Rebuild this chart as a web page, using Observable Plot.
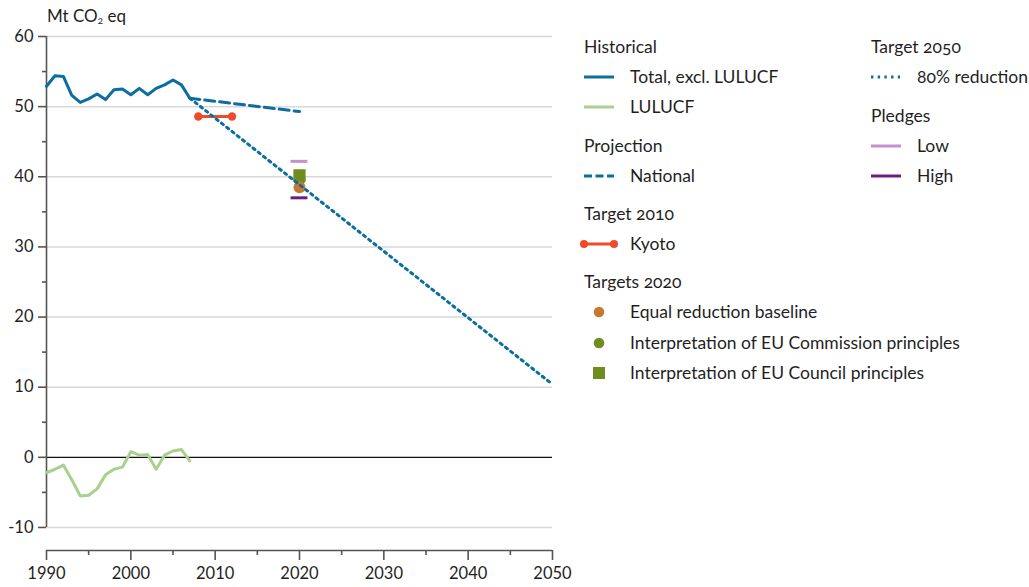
<!DOCTYPE html>
<html>
<head>
<meta charset="utf-8">
<script src="https://cdn.jsdelivr.net/npm/d3@7"></script>
<script src="https://cdn.jsdelivr.net/npm/@observablehq/plot@0.6"></script>
<style>
  html, body { margin: 0; padding: 0; background: #fff; }
  body { font-family: Lato, "Open Sans", sans-serif; color: #1f1f1f; font-variant-numeric: oldstyle-nums; }
  #wrap { position: relative; width: 1029px; height: 587px; overflow: hidden; }
  #chart { position: absolute; left: 0; top: 0; }
  .title { position: absolute; left: 47px; top: 5px; font-size: 17px; }
  .title sub { font-size: 10px; vertical-align: -2px; }
  .lg { position: absolute; font-size: 17.5px; line-height: 22px; white-space: nowrap; }
  .lg svg { position: absolute; left: 0; top: 0; overflow: visible; }
</style>
</head>
<body>
<div id="wrap">
  <div id="chart"></div>
  <div class="title">Mt CO<sub>2</sub> eq</div>
</div>
<script>
// ---------- data ----------
const histYears = [1990,1991,1992,1993,1994,1995,1996,1997,1998,1999,2000,2001,2002,2003,2004,2005,2006,2007];
const totalExclLulucf = [52.9,54.4,54.3,51.6,50.6,51.1,51.8,51.0,52.4,52.5,51.7,52.6,51.7,52.6,53.1,53.8,53.1,51.2];
const lulucf = [-2.2,-1.7,-1.1,-3.2,-5.5,-5.4,-4.5,-2.5,-1.7,-1.4,0.8,0.3,0.4,-1.7,0.3,0.9,1.1,-0.5];
const projYears = [2007, 2020];
const projNational = [51.2, 49.3];
const target2050Years = [2007, 2050];
const target2050Values = [51.2, 10.4];
const kyotoYears = [2008, 2012];
const kyotoValues = [48.6, 48.6];
const targetYear = 2020;
const pledgeLow = 42.2;
const pledgeHigh = 37.0;
const equalReduction = 38.5;
const commissionPrinciples = 39.6;
const councilPrinciples = 40.2;
const xTicks = [1990,2000,2010,2020,2030,2040,2050];
const xMinorTicks = [1995,2005,2015,2025,2035,2045];
const yTicks = [-10,0,10,20,30,40,50,60];
const yMinorTicks = [-5,5,15,25,35,45,55];

// ---------- colours ----------
const cBlue = "#0b6e9e", cGreen = "#a9d08e", cRed = "#ee4b2b",
      cLow = "#c391cc", cHigh = "#6a1f7e", cOrange = "#c7792f", cOlive = "#6f8d1f";

const hist = histYears.map((x,i)=>({x, total: totalExclLulucf[i], lulucf: lulucf[i]}));
const proj = projYears.map((x,i)=>({x, y: projNational[i]}));
const t2050 = target2050Years.map((x,i)=>({x, y: target2050Values[i]}));
const kyoto = kyotoYears.map((x,i)=>({x, y: kyotoValues[i]}));

const yBottom = -10 - 23/7;   // x-axis sits below the -10 line
const font = "Lato, 'Open Sans', sans-serif";

const chart = Plot.plot({
  width: 1029, height: 587,
  marginLeft: 46, marginRight: 477, marginTop: 36, marginBottom: 37,
  x: {domain: [1990, 2050]},
  y: {domain: [yBottom, 60]},
  style: {fontFamily: font, fontSize: "16.5px", color: "#1f1f1f", background: "transparent", fontVariantNumeric: "oldstyle-nums"},
  marks: [
    Plot.ruleY(yTicks.filter(d => d !== 0), {x1: 1990, x2: 2050, stroke: "#d8d8d8", strokeWidth: 1.5}),
    Plot.ruleY([0], {x1: 1990, x2: 2050, stroke: "#111", strokeWidth: 1.2}),
    Plot.ruleX([1990], {y1: -10, y2: 60, stroke: "#555", strokeWidth: 1.6}),
    Plot.ruleY([yBottom], {x1: 1990, x2: 2050, stroke: "#555", strokeWidth: 1.6}),
    Plot.axisY(yTicks, {tickSize: 8, tickPadding: 5, tickFormat: d => String(d), label: null, stroke: "#555", strokeWidth: 1.6, fontSize: 16.5}),
    Plot.axisY(yMinorTicks, {tickSize: 4, text: null, label: null, stroke: "#555", strokeWidth: 1.6}),
    Plot.axisX(xTicks, {tickSize: 10, tickPadding: 7, tickFormat: d => String(d), label: null, stroke: "#555", strokeWidth: 1.6, fontSize: 16.5}),
    Plot.axisX(xMinorTicks, {tickSize: 5, text: null, label: null, stroke: "#555", strokeWidth: 1.6}),
    Plot.line(hist, {x: "x", y: "lulucf", stroke: cGreen, strokeWidth: 3}),
    Plot.line(hist, {x: "x", y: "total", stroke: cBlue, strokeWidth: 3}),
    Plot.line(proj, {x: "x", y: "y", stroke: cBlue, strokeWidth: 3, strokeDasharray: "10,5"}),
    Plot.line(kyoto, {x: "x", y: "y", stroke: cRed, strokeWidth: 3}),
    Plot.dot(kyoto, {x: "x", y: "y", fill: cRed, r: 4.2}),
    Plot.ruleY([pledgeLow], {x1: targetYear - 1, x2: targetYear + 1, stroke: cLow, strokeWidth: 3}),
    Plot.ruleY([pledgeHigh], {x1: targetYear - 1, x2: targetYear + 1, stroke: cHigh, strokeWidth: 3}),
    Plot.dot([councilPrinciples], {x: () => targetYear, y: d => d, symbol: "square", r: 6.9, fill: cOlive}),
    Plot.dot([commissionPrinciples], {x: () => targetYear, y: d => d, r: 6, fill: cOlive}),
    Plot.dot([equalReduction], {x: () => targetYear, y: d => d, r: 6, fill: cOrange}),
    Plot.line(t2050, {x: "x", y: "y", stroke: cBlue, strokeWidth: 3, strokeDasharray: "2.4,4.3"})
  ]
});
document.getElementById("chart").appendChild(chart);

// ---------- legend ----------
const legendItems = [
  {col: 0, y: 47, head: "Historical"},
  {col: 0, y: 77, label: "Total, excl. LULUCF", sym: "line", color: cBlue},
  {col: 0, y: 107, label: "LULUCF", sym: "line", color: cGreen},
  {col: 0, y: 146, head: "Projection"},
  {col: 0, y: 176, label: "National", sym: "dash", color: cBlue},
  {col: 0, y: 214, head: "Target 2010"},
  {col: 0, y: 244, label: "Kyoto", sym: "dotline", color: cRed},
  {col: 0, y: 282, head: "Targets 2020"},
  {col: 0, y: 312, label: "Equal reduction baseline", sym: "circle", color: cOrange},
  {col: 0, y: 343, label: "Interpretation of EU Commission principles", sym: "circle", color: cOlive},
  {col: 0, y: 373, label: "Interpretation of EU Council principles", sym: "square", color: cOlive},
  {col: 1, y: 47, head: "Target 2050"},
  {col: 1, y: 77, label: "80% reduction", sym: "dot", color: cBlue},
  {col: 1, y: 116, head: "Pledges"},
  {col: 1, y: 146, label: "Low", sym: "line", color: cLow},
  {col: 1, y: 176, label: "High", sym: "line", color: cHigh}
];
const colX = [584, 871];
const wrap = document.getElementById("wrap");
const ns = "http://www.w3.org/2000/svg";
for (const it of legendItems) {
  const div = document.createElement("div");
  div.className = "lg";
  const x0 = colX[it.col];
  div.style.left = x0 + "px";
  div.style.top = (it.y - 11) + "px";
  if (it.head) {
    div.textContent = it.head;
  } else {
    const span = document.createElement("span");
    span.textContent = it.label;
    span.style.marginLeft = "46px";
    div.appendChild(span);
    const svg = document.createElementNS(ns, "svg");
    svg.setAttribute("width", 32); svg.setAttribute("height", 22);
    let inner = "";
    const cy = 11;
    if (it.sym === "line") inner = `<line x1="0" x2="30" y1="${cy}" y2="${cy}" stroke="${it.color}" stroke-width="3"/>`;
    if (it.sym === "dash") inner = `<line x1="0" x2="30" y1="${cy}" y2="${cy}" stroke="${it.color}" stroke-width="3" stroke-dasharray="8,3.5"/>`;
    if (it.sym === "dot") inner = `<line x1="0" x2="29" y1="${cy}" y2="${cy}" stroke="${it.color}" stroke-width="3" stroke-dasharray="2.4,4.3"/>`;
    if (it.sym === "dotline") inner = `<line x1="0" x2="30" y1="${cy}" y2="${cy}" stroke="${it.color}" stroke-width="3"/><circle cx="0" cy="${cy}" r="4" fill="${it.color}"/><circle cx="30" cy="${cy}" r="4" fill="${it.color}"/>`;
    if (it.sym === "circle") inner = `<circle cx="15" cy="${cy}" r="5.3" fill="${it.color}"/>`;
    if (it.sym === "square") inner = `<rect x="9" y="${cy-6}" width="12" height="12" fill="${it.color}"/>`;
    svg.innerHTML = inner;
    div.appendChild(svg);
  }
  wrap.appendChild(div);
}
</script>
</body>
</html>
